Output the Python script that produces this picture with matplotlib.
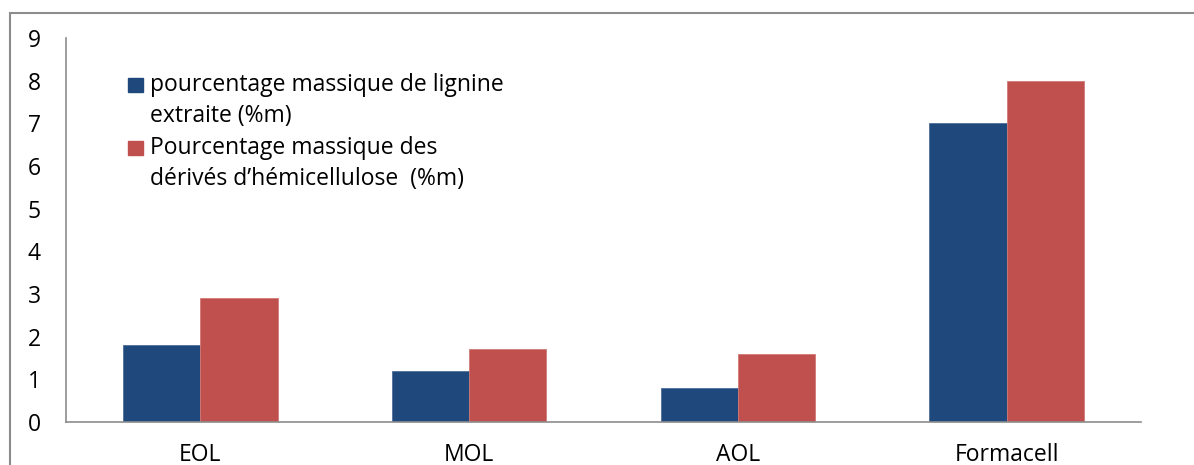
import matplotlib
matplotlib.use("Agg")
import matplotlib.pyplot as plt
import numpy as np
from matplotlib.patches import Rectangle

categories = ["EOL", "MOL", "AOL", "Formacell"]
lignine = [1.8, 1.2, 0.8, 7.0]
hemicellulose = [2.9, 1.7, 1.6, 8.0]
labels = [
    "pourcentage massique de lignine\nextraite (%m)",
    "Pourcentage massique des\ndérivés d\u2019hémicellulose  (%m)",
]
colors = ["#1F497D", "#C0504D"]

plt.rcParams["font.family"] = ["Open Sans", "DejaVu Sans"]

W, H = 1194, 465
fig = plt.figure(figsize=(W / 100, H / 100), dpi=100)
ax = fig.add_axes([66 / W, 1 - 422 / H, (1141 - 66) / W, (422 - 38) / H])

x = np.arange(len(categories))
bw = 0.287
ax.bar(x - bw / 2, lignine, bw, color=colors[0], edgecolor="#4F6E99", linewidth=0.6)
ax.bar(x + bw / 2, hemicellulose, bw, color=colors[1], edgecolor="#D07A77", linewidth=0.6)

ax.set_xlim(-0.5, len(categories) - 0.5)
ax.set_ylim(0, 9)
ax.set_yticks(range(10))
ax.set_xticks(x, categories)
ax.tick_params(axis="both", length=0, labelsize=16.5, colors="black")
ax.tick_params(axis="y", pad=18)
ax.tick_params(axis="x", pad=15)
for side in ["top", "right"]:
    ax.spines[side].set_visible(False)
for side in ["left", "bottom"]:
    ax.spines[side].set_color("#8C8C8C")
    ax.spines[side].set_linewidth(1.2)

# legend: coloured squares with two-line labels, upper left of the plot
first_line = [0.878, 0.714]
line_gap = 0.082
for y0, lab, col in zip(first_line, labels, colors):
    ax.add_patch(Rectangle((0.0577, y0 - 0.018), 0.014, 0.0365, transform=ax.transAxes,
                           color=col, clip_on=False))
    for i, line in enumerate(lab.split("\n")):
        ax.text(0.078, y0 - i * line_gap, line, transform=ax.transAxes, fontsize=16.5,
                va="center", ha="left")

# outer chart frame
fig.patches.append(Rectangle((10 / W, -0.05), 1.1, 1 - 13 / H + 0.05, transform=fig.transFigure,
                             fill=False, edgecolor="#8C8C8C", linewidth=1.5))

fig.savefig("out.png", dpi=100)
